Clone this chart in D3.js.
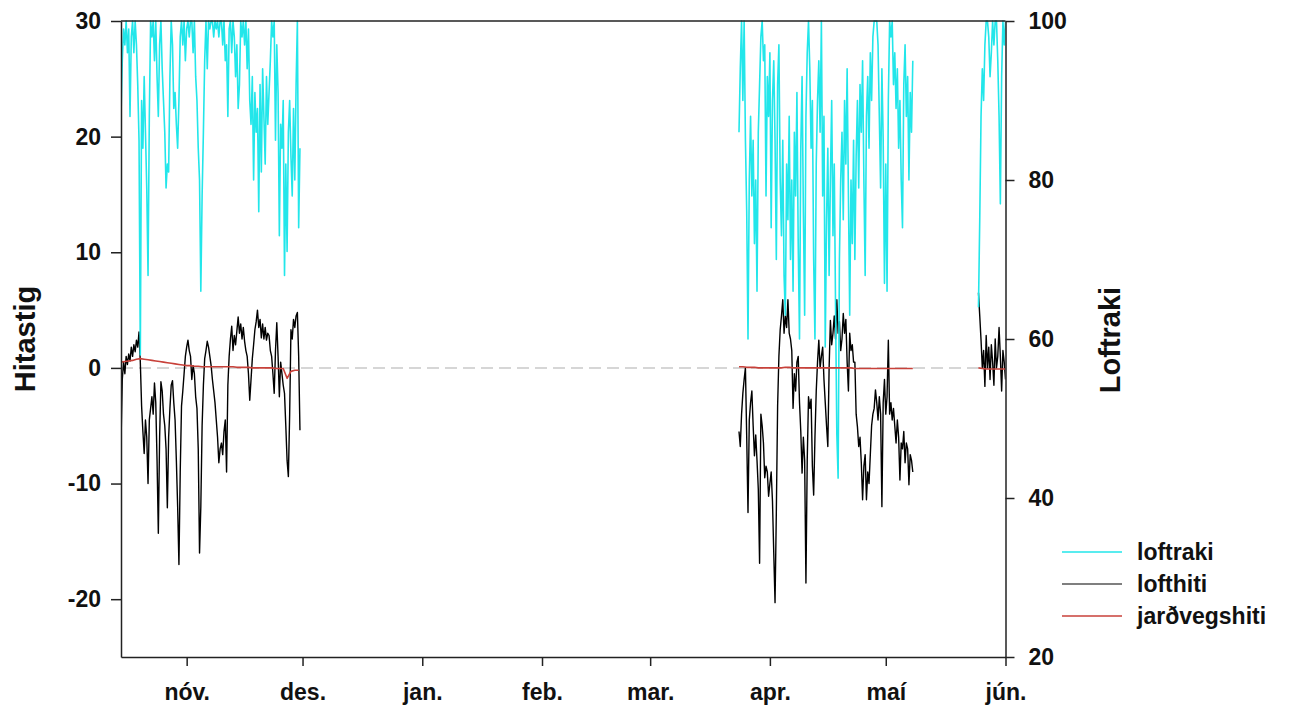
<!DOCTYPE html>
<html>
<head>
<meta charset="utf-8">
<script src="https://cdn.jsdelivr.net/npm/d3@7"></script>
<style>
  html, body { margin: 0; padding: 0; background: #fff; }
  svg { display: block; font-family: "Liberation Sans", Arial, sans-serif; font-weight: bold; }
</style>
</head>
<body>
<svg id="chart" width="1298" height="711"></svg>
<script>
// ---- data (8-hourly air humidity/temperature, daily soil temperature) ----
const monthLabels = ["nóv.", "des.", "jan.", "feb.", "mar.", "apr.", "maí", "jún."];
const tempTicks = [-20, -10, 0, 10, 20, 30];
const humTicks = [20, 40, 60, 80, 100];
const seriesNames = ["loftraki", "lofthiti", "jarðvegshiti"];

const seg1Start = "2018-10-15T00:00:00Z";
const seg2Start = "2019-03-24T00:00:00Z";
const seg3Start = "2019-05-25T00:00:00Z";

const hum1 = [88,95,99,97,100,96,99,88,98,100,
  96,100,97,92,85,58,90,84,93,86,
  79,68,88,100,98,100,95,100,93,88,
  97,100,94,90,86,79,82,81,93,100,
  97,89,91,87,84,90,98,100,97,100,
  95,99,100,98,100,100,96,100,93,90,
  84,80,66,78,86,95,100,94,100,99,
  100,100,98,100,99,100,98,100,100,97,
  100,95,97,88,99,100,96,100,98,93,
  97,89,92,100,98,100,97,100,94,99,
  90,87,93,80,91,86,89,76,92,81,
  94,88,82,93,87,91,95,100,98,100,
  85,97,91,73,87,84,90,68,82,71,
  86,90,83,78,89,80,92,100,74,84];
const temp1 = [-6.5,-1.0,0.5,-0.5,1.0,0.3,1.2,0.6,1.8,1.0,
  2.0,1.4,2.4,1.8,3.1,0.5,-3.3,-5.5,-7.4,-4.5,
  -6.0,-10.0,-4.5,-3.5,-2.5,-4.0,-1.3,-3.0,-8.0,-14.3,
  -6.0,-1.2,-2.0,-4.0,-5.0,-7.0,-12.1,-6.0,-3.5,-1.5,
  -1.1,-3.0,-4.5,-8.0,-12.0,-17.0,-9.0,-3.3,-2.0,-0.5,
  1.0,1.8,2.4,1.5,1.0,-1.0,0.2,-0.5,-2.5,-3.5,
  -7.0,-16.0,-12.0,-5.0,-1.5,0.8,1.5,2.3,1.8,1.0,
  0.2,-1.0,-2.0,-3.0,-4.5,-6.0,-8.2,-7.0,-6.5,-7.5,
  -5.5,-4.5,-9.0,-1.5,1.0,2.5,3.6,1.5,2.8,2.0,
  3.2,4.4,3.0,3.8,2.5,3.5,2.3,1.5,1.0,-0.5,
  -2.8,-1.0,0.8,2.0,3.3,4.0,5.0,3.5,4.2,2.6,
  3.8,2.5,3.5,2.4,3.0,2.8,1.5,1.0,-0.5,-2.2,
  1.5,3.9,1.0,-2.5,0.5,-0.5,-1.5,-2.2,-5.0,-8.0,
  -9.4,-4.0,3.3,2.5,4.2,3.5,4.5,4.8,1.0,-5.4];
const soil1 = [0.5,0.55,0.6,0.65,0.75,0.8,0.75,0.7,0.65,0.6,
  0.55,0.5,0.45,0.4,0.35,0.3,0.25,0.2,0.2,0.15,
  0.15,0.1,0.1,0.1,0.1,0.1,0.1,0.1,0.1,0.1,
  0.05,0.05,0.05,0.05,0.0,0.0,0.0,0.0,0.0,0.0,
  -0.05,-0.05,-0.05,-0.9,-0.3,-0.2,-0.2];

const hum2 = [86,94,100,90,100,85,76,60,80,88,
  78,85,72,80,66,86,92,98,100,95,
  97,78,93,88,96,74,90,95,85,70,
  92,97,80,73,85,68,63,82,75,88,
  70,80,66,86,78,91,72,60,84,93,
  76,63,88,96,100,94,84,90,70,60,
  82,90,95,86,100,78,88,59,75,84,
  68,80,90,73,82,64,48,42.5,70,80,
  86,75,90,82,94,78,63,80,72,85,
  70,83,90,79,92,86,95,80,68,88,
  93,84,96,90,98,100,100,100,97,88,
  79,94,85,67,82,66,90,100,98,100,
  92,96,89,94,84,90,80,74,92,97,
  88,93,80,91,86,95];
const temp2 = [-5.5,-6.8,-4.0,-2.2,-1.0,0.0,-6.0,-12.5,-4.5,-3.0,
  -2.0,-5.0,-7.6,-5.8,-8.0,-10.5,-16.9,-4.0,-5.0,-6.5,
  -9.5,-8.5,-9.0,-11.1,-10.0,-9.0,-11.5,-16.0,-20.3,-12.5,
  -3.3,1.0,3.3,4.5,5.9,3.0,4.5,3.5,5.9,3.0,
  2.5,1.5,-3.5,-0.5,-2.0,0.5,1.0,-3.0,-5.5,-9.1,
  -6.0,-8.0,-18.6,-8.0,-2.5,-3.5,-2.7,-8.5,-11.0,-6.0,
  -2.0,0.5,2.4,0.0,1.0,1.8,-1.0,-3.0,-5.0,-6.8,
  0.0,4.1,2.0,3.0,4.5,2.5,5.9,3.0,4.0,1.5,
  2.5,4.7,3.0,4.2,0.5,-2.0,3.0,1.5,2.0,0.5,
  0.5,-4.0,-5.1,-6.8,-6.0,-8.2,-11.4,-8.5,-7.5,-11.4,
  -9.0,-10.0,-7.5,-5.0,-4.0,-3.5,-1.9,-3.0,-4.5,-2.5,
  -4.0,-12.0,-3.0,-1.0,-4.0,-2.5,2.4,-4.0,-3.0,-4.5,
  -3.5,-5.0,-6.5,-4.5,-6.0,-9.7,-6.5,-7.0,-5.5,-8.2,
  -6.5,-7.0,-10.1,-7.5,-8.0,-9.0];
const soil2 = [0.1,0.1,0.05,0.05,0.05,0.0,0.0,0.0,0.0,0.0,
  0.0,0.0,0.05,0.05,0.0,0.0,0.0,0.0,0.0,0.0,
  0.0,0.0,0.0,0.0,0.0,0.0,0.0,0.0,0.0,0.0,
  -0.05,-0.05,-0.05,-0.05,-0.05,-0.05,-0.05,-0.05,-0.05,-0.05,
  -0.05,-0.05,-0.05,-0.05,-0.05,-0.05];

const hum3 = [64,75,88,94,90,97,100,100,98,93,96,100,97,100,100,95,88,77,93,100,97,100];
const temp3 = [6.5,4.5,2.4,0.0,1.5,-1.6,2.8,0.0,1.8,-1.0,2.0,0.5,-1.5,2.5,0.0,1.0,3.5,1.0,-2.0,1.5,0.5,-1.0];
const soil3 = [0.0,-0.05,-0.1,-0.1,-0.1,-0.1,-0.1,-0.1];

// ---- helpers ----
function toPoints(startIso, stepHours, values) {
  const s = new Date(startIso);
  return values.map((v, i) => ({ t: d3.utcHour.offset(s, stepHours * i), v }));
}
const humSegs = [toPoints(seg1Start, 8, hum1), toPoints(seg2Start, 8, hum2), toPoints(seg3Start, 8, hum3)];
const tempSegs = [toPoints(seg1Start, 8, temp1), toPoints(seg2Start, 8, temp2), toPoints(seg3Start, 8, temp3)];
const soilSegs = [toPoints(seg1Start, 24, soil1), toPoints(seg2Start, 24, soil2), toPoints(seg3Start, 24, soil3)];

// ---- layout ----
const L = 121, R = 1005.5, T = 21, B = 657;
const svg = d3.select("#chart");

const x = d3.scaleUtc()
  .domain([new Date("2018-10-15T00:00:00Z"), new Date("2019-06-01T00:00:00Z")])
  .range([L, R]);
const yT = d3.scaleLinear().domain([-25, 30]).range([B, T]);
const yH = d3.scaleLinear().domain([20, 100]).range([B, T]);

svg.append("defs").append("clipPath").attr("id", "plotclip")
  .append("rect").attr("x", L).attr("y", T - 1).attr("width", R - L).attr("height", B - T + 2);

// zero reference line
svg.append("line")
  .attr("x1", L).attr("x2", R).attr("y1", yT(0)).attr("y2", yT(0))
  .attr("stroke", "#d6d6d6").attr("stroke-width", 2).attr("stroke-dasharray", "12,6");

const colors = { hum: "#22e6ea", temp: "#000000", soil: "#c8413a" };
const plot = svg.append("g").attr("clip-path", "url(#plotclip)");

const lineT = d3.line().x(d => x(d.t)).y(d => yT(d.v));
const lineH = d3.line().x(d => x(d.t)).y(d => yH(d.v));

tempSegs.forEach(seg => plot.append("path").datum(seg).attr("d", lineT)
  .attr("fill", "none").attr("stroke", colors.temp).attr("stroke-width", 1.4).attr("stroke-linejoin", "round"));
humSegs.forEach(seg => plot.append("path").datum(seg).attr("d", lineH)
  .attr("fill", "none").attr("stroke", colors.hum).attr("stroke-width", 1.6).attr("stroke-linejoin", "round"));
soilSegs.forEach(seg => plot.append("path").datum(seg).attr("d", lineT)
  .attr("fill", "none").attr("stroke", colors.soil).attr("stroke-width", 1.6).attr("stroke-linejoin", "round"));

// frame
svg.append("line").attr("x1", L).attr("x2", R).attr("y1", T).attr("y2", T)
  .attr("stroke", "#222").attr("stroke-width", 1.5);

// axes
const monthTicks = d3.utcMonth.range(new Date("2018-11-01T00:00:00Z"), new Date("2019-06-02T00:00:00Z"));
const xAxis = d3.axisBottom(x).tickValues(monthTicks)
  .tickFormat((d, i) => monthLabels[i]).tickSize(9).tickPadding(18).tickSizeOuter(0);
const gx = svg.append("g").attr("transform", `translate(0,${B})`).call(xAxis);

const gl = svg.append("g").attr("transform", `translate(${L},0)`)
  .call(d3.axisLeft(yT).tickValues(tempTicks).tickFormat(d => String(d))
    .tickSize(10).tickPadding(10).tickSizeOuter(0));
const gr = svg.append("g").attr("transform", `translate(${R},0)`)
  .call(d3.axisRight(yH).tickValues(humTicks).tickFormat(d => String(d))
    .tickSize(9).tickPadding(14).tickSizeOuter(0));

[gx, gl, gr].forEach(g => {
  g.selectAll(".domain").attr("stroke", "#222").attr("stroke-width", 1.5);
  g.selectAll(".tick line").attr("stroke", "#222").attr("stroke-width", 1.5);
  g.selectAll(".tick text").attr("fill", "#111")
    .style("font-family", '"Liberation Sans", Arial, sans-serif')
    .style("font-weight", "bold").style("font-size", "23px");
});

// axis titles
svg.append("text").attr("transform", `translate(35,339) rotate(-90)`)
  .attr("text-anchor", "middle").attr("fill", "#111").style("font-size", "29px").text("Hitastig");
svg.append("text").attr("transform", `translate(1120,340) rotate(-90)`)
  .attr("text-anchor", "middle").attr("fill", "#111").style("font-size", "29px").text("Loftraki");

// legend
const legendColors = [colors.hum, colors.temp, colors.soil];
const leg = svg.append("g");
seriesNames.forEach((name, i) => {
  const y = 552 + i * 32;
  leg.append("line").attr("x1", 1062).attr("x2", 1122).attr("y1", y).attr("y2", y)
    .attr("stroke", legendColors[i]).attr("stroke-width", i === 1 ? 1.2 : 1.6);
  leg.append("text").attr("x", 1137).attr("y", y).attr("dy", "0.35em")
    .attr("fill", "#111").style("font-size", "23px").text(name);
});
</script>
</body>
</html>
